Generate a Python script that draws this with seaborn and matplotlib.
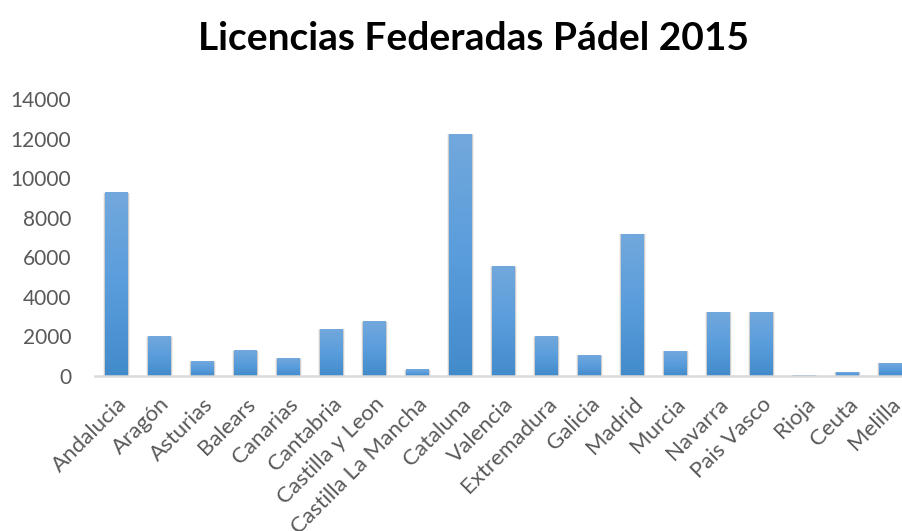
import numpy as np
import pandas as pd
import matplotlib
matplotlib.use("Agg")
import matplotlib.pyplot as plt
import seaborn as sns
from matplotlib.colors import LinearSegmentedColormap

# Data
comunidades = ["Andalucia", "Aragón", "Asturias", "Balears", "Canarias", "Cantabria",
               "Castilla y Leon", "Castilla La Mancha", "Cataluna", "Valencia",
               "Extremadura", "Galicia", "Madrid", "Murcia", "Navarra", "Pais Vasco",
               "Rioja", "Ceuta", "Melilla"]
licencias = [9250, 1980, 720, 1270, 870, 2340, 2730, 310, 12200, 5520,
             1980, 1030, 7170, 1240, 3200, 3200, 50, 200, 630]
y_ticks = [0, 2000, 4000, 6000, 8000, 10000, 12000, 14000]

df = pd.DataFrame({"comunidad": comunidades, "licencias": licencias})

sns.set_theme(style="white")
plt.rcParams["font.family"] = ["Lato", "DejaVu Sans"]

fig = plt.figure(figsize=(9.02, 5.31), dpi=100)
# plot area runs a little past the right edge, as in the original
ax = fig.add_axes([95 / 902, 155 / 531, 817 / 902, 277 / 531])

sns.barplot(data=df, x="comunidad", y="licencias", color="#5b9bd5", width=0.53, ax=ax)

# gradient fill + soft shadow like the Excel style
cmap = LinearSegmentedColormap.from_list("excel", ["#428bcb", "#5a9ddc", "#72a8dc"])
grad = np.linspace(0, 1, 256).reshape(-1, 1)
for p in ax.patches:
    x0, w, h = p.get_x(), p.get_width(), p.get_height()
    if h <= 0:
        continue
    for k, a in [(0.06, 0.10), (0.035, 0.15), (0.015, 0.2)]:
        ax.add_patch(plt.Rectangle((x0 - k, 0), w + 2 * k, h + k * 300, color="#808080",
                                   alpha=a, lw=0, zorder=1))
    ax.imshow(grad, cmap=cmap, aspect="auto", origin="lower",
              extent=[x0, x0 + w, 0, h], zorder=2)
    p.set_visible(False)

ax.set_xlim(-0.5, len(comunidades) - 0.5)
ax.set_ylim(0, 14000)
ax.set_yticks(y_ticks)
ax.set_yticklabels([str(t) for t in y_ticks])
ax.set_xlabel("")
ax.set_ylabel("")

for s in ["top", "right", "left"]:
    ax.spines[s].set_visible(False)
ax.spines["bottom"].set_color("#d9d9d9")
ax.spines["bottom"].set_linewidth(1.8)
ax.spines["bottom"].set_zorder(3)

ax.tick_params(axis="y", length=0, labelsize=15, labelcolor="#595959", pad=17)
ax.tick_params(axis="x", length=0, labelsize=16, labelcolor="#595959", pad=13)
plt.setp(ax.get_xticklabels(), rotation=45, ha="right", rotation_mode="anchor")

fig.text(473 / 902, 1 - 38 / 531, "Licencias Federadas Pádel 2015", ha="center",
         va="center", fontsize=28, fontweight="bold", color="black")

fig.savefig("out.png", dpi=100)
